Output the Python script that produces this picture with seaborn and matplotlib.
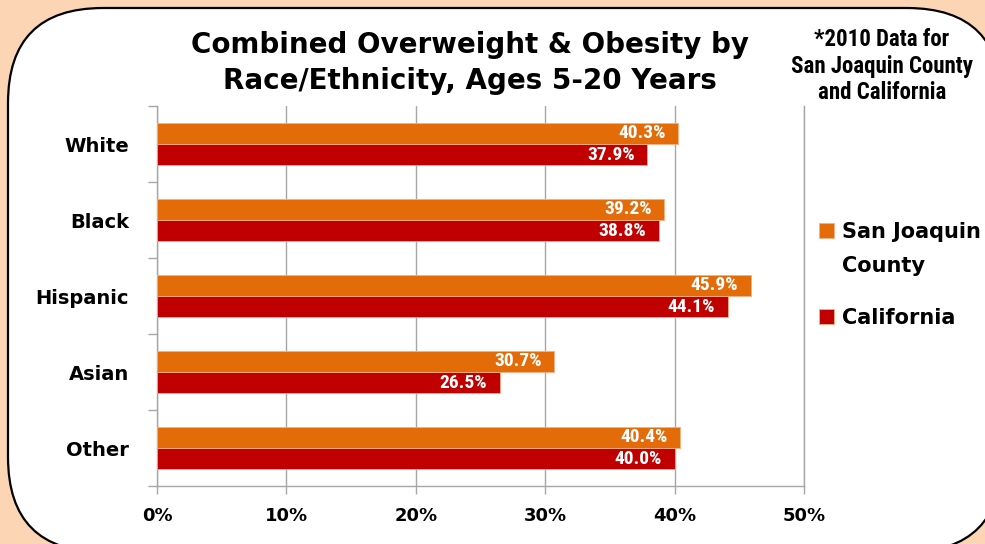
"""
Combined overweight & obesity by race/ethnicity, ages 5-20 (2010),
San Joaquin County vs California. Horizontal grouped bar chart.
"""
import matplotlib
matplotlib.use("Agg")
import matplotlib.pyplot as plt
from matplotlib.patches import FancyBboxPatch
import pandas as pd
import seaborn as sns

# data
races = ["White", "Black", "Hispanic", "Asian", "Other"]
san_joaquin = [40.3, 39.2, 45.9, 30.7, 40.4]
california = [37.9, 38.8, 44.1, 26.5, 40.0]
areas = ["San Joaquin County", "California"]
x_ticks = [0, 10, 20, 30, 40, 50]

ORANGE = "#e36c09"
RED = "#c00000"
PEACH = "#fcd5b5"
GRID = "#a6a6a6"

df = pd.DataFrame({
    "race": races * 2,
    "pct": san_joaquin + california,
    "area": [areas[0]] * len(races) + [areas[1]] * len(races),
})

sns.set_theme(style="white")
plt.rcParams["font.family"] = ["DejaVu Sans"]
plt.rcParams["text.color"] = "black"
plt.rcParams["xtick.labelcolor"] = "black"
plt.rcParams["ytick.labelcolor"] = "black"
NARROW = ["Roboto Condensed", "Roboto", "DejaVu Sans"]

W, H = 985, 544
fig = plt.figure(figsize=(W / 100, H / 100), dpi=100, facecolor=PEACH)

# background panel with rounded corners, drawn in pixel units
bg = fig.add_axes([0, 0, 1, 1], zorder=0)
bg.set_xlim(0, W)
bg.set_ylim(H, 0)
bg.axis("off")
bg.add_patch(FancyBboxPatch((8, 8), 994, 544,
                            boxstyle="round,pad=0,rounding_size=95",
                            facecolor="white", edgecolor="black", linewidth=1.6))

ax = fig.add_axes([157 / W, 1 - 486 / H, (804 - 157) / W, (486 - 106) / H], zorder=1)
ax.patch.set_alpha(0)

sns.barplot(data=df, y="race", x="pct", hue="area", orient="h",
            palette=[ORANGE, RED], saturation=1, width=0.56,
            edgecolor="#f4b183", linewidth=0.6, ax=ax, zorder=3)

ax.set_xlim(0, 50)
ax.set_ylim(len(races) - 0.5, -0.5)
ax.set_xticks(x_ticks)
ax.set_xticklabels([f"{v}%" for v in x_ticks], fontsize=13, fontweight="bold")
ax.tick_params(axis="x", which="major", direction="out", length=6, width=1,
               color=GRID, pad=9, bottom=True)
ax.grid(axis="x", color=GRID, linewidth=1, zorder=0)
ax.grid(axis="y", visible=False)

ax.set_yticks(range(len(races)))
ax.set_yticklabels(races, fontsize=14, fontweight="bold")
ax.set_yticks([i - 0.5 for i in range(len(races) + 1)], minor=True)
ax.tick_params(axis="y", which="major", length=0, pad=20)
ax.tick_params(axis="y", which="minor", direction="out", length=6.5, width=1,
               color=GRID, left=True)
ax.set_xlabel("")
ax.set_ylabel("")

ax.spines["top"].set_visible(False)
for side in ["left", "bottom", "right"]:
    ax.spines[side].set_color(GRID)
    ax.spines[side].set_linewidth(1)

for cont in ax.containers:
    labels = ax.bar_label(cont, fmt="%.1f%%", padding=-9, color="white",
                          fontsize=14, fontweight="bold", family=NARROW)
    for t in labels:
        t.set_ha("right")

handles, _ = ax.get_legend_handles_labels()
if ax.get_legend() is not None:
    ax.get_legend().remove()
leg = fig.legend(handles, ["San Joaquin", "California"],
                 loc="upper left", bbox_to_anchor=(819 / W, 1 - 222 / H),
                 frameon=False, borderpad=0, borderaxespad=0,
                 handlelength=0.7, handleheight=0.7, handletextpad=0.4,
                 labelspacing=3.15, prop={"size": 15, "weight": "bold"})

# second line of the first legend label, placed right under it
fig.canvas.draw()
bb = leg.get_texts()[0].get_window_extent().transformed(fig.transFigure.inverted())
fig.text(bb.x0, bb.y0 - 14 / H, "County", ha="left", va="top",
         fontsize=15, fontweight="bold")

fig.text(470 / W, 1 - 63 / H,
         "Combined Overweight & Obesity by\nRace/Ethnicity, Ages 5-20 Years",
         ha="center", va="center", fontsize=20, fontweight="bold",
         linespacing=1.35)

fig.text(882 / W, 1 - 66 / H, "*2010 Data for\nSan Joaquin County\nand California",
         ha="center", va="center", fontsize=16.5, fontweight="bold",
         family=NARROW, linespacing=1.22)

fig.savefig("out.png", dpi=100, facecolor=PEACH)
